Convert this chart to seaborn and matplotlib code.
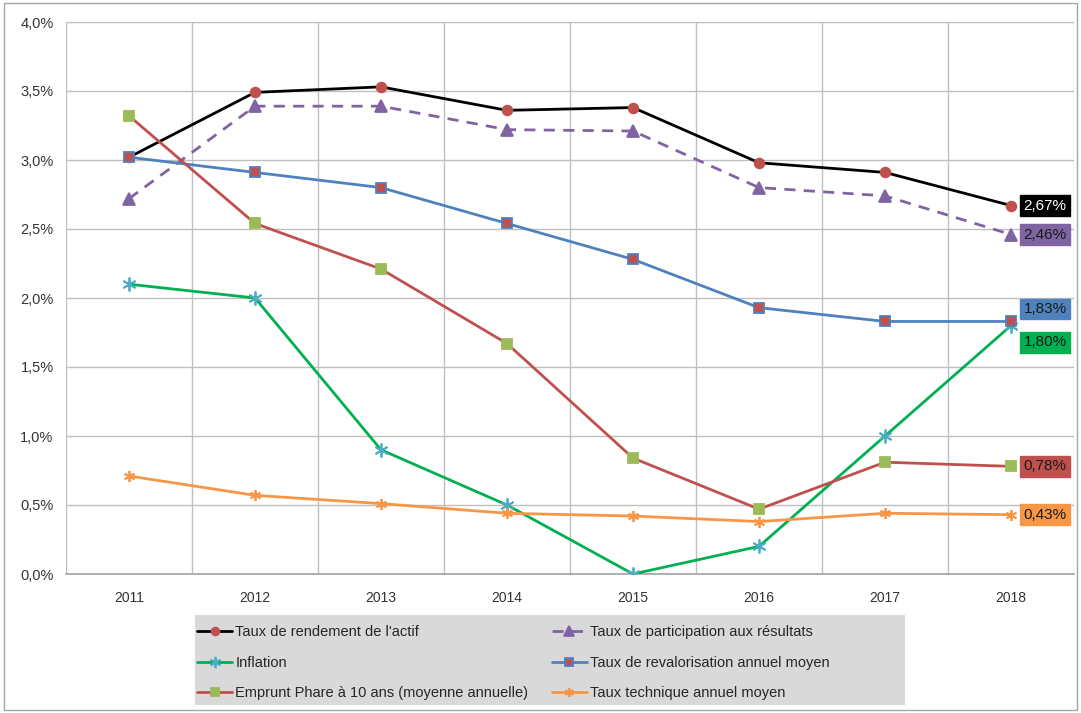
import numpy as np
import pandas as pd
import matplotlib
matplotlib.use("Agg")
import matplotlib.pyplot as plt
import seaborn as sns
from matplotlib.ticker import FuncFormatter, MultipleLocator, FixedLocator
from matplotlib.patches import Rectangle

years = ["2011", "2012", "2013", "2014", "2015", "2016", "2017", "2018"]

rendement = [3.02, 3.49, 3.53, 3.36, 3.38, 2.98, 2.91, 2.67]
participation = [2.72, 3.39, 3.39, 3.22, 3.21, 2.80, 2.74, 2.46]
revalorisation = [3.02, 2.91, 2.80, 2.54, 2.28, 1.93, 1.83, 1.83]
emprunt = [3.32, 2.54, 2.21, 1.67, 0.84, 0.47, 0.81, 0.78]
inflation = [2.10, 2.00, 0.90, 0.50, 0.00, 0.20, 1.00, 1.80]
technique = [0.71, 0.57, 0.51, 0.44, 0.42, 0.38, 0.44, 0.43]

labels = [
    "Taux de rendement de l'actif",
    "Taux de participation aux résultats",
    "Inflation",
    "Taux de revalorisation annuel moyen",
    "Emprunt Phare à 10 ans (moyenne annuelle)",
    "Taux technique annuel moyen",
]

sns.set_theme(style="white")
plt.rcParams["font.family"] = ["Liberation Sans", "DejaVu Sans"]

fig = plt.figure(figsize=(10.81, 7.13), dpi=100)
ax = fig.add_axes([66 / 1081, 1 - 574 / 713, (1074 - 66) / 1081, (574 - 22) / 713])

x = np.arange(len(years))
asterisk = (6, 2, 0)

# label, values, line colour, marker, marker face, marker edge, size, linestyle, box colour, text colour, label offset
series = [
    (labels[0], rendement, "#000000", "o", "#C0504D", "#C0504D", 7, "-", "#000000", "white", 0),
    (labels[1], participation, "#8064A2", "^", "#8064A2", "#8064A2", 9, (0, (4, 3)), "#8064A2", "#1a1a1a", 0),
    (labels[2], inflation, "#00B050", asterisk, "#4BACC6", "#4BACC6", 10, "-", "#00B050", "#1a1a1a", -12),
    (labels[3], revalorisation, "#4F81BD", "s", "#C0504D", "#4F81BD", 6.5, "-", "#4F81BD", "#1a1a1a", 9),
    (labels[4], emprunt, "#C0504D", "s", "#9BBB59", "#9BBB59", 6.5, "-", "#C0504D", "#1a1a1a", 0),
    (labels[5], technique, "#F79646", asterisk, "#F79646", "#F79646", 8, "-", "#F79646", "#1a1a1a", 0),
]

handles = {}
for lab, vals, col, mk, mfc, mec, ms, ls, box, tc, off in series:
    sns.lineplot(x=x, y=vals, ax=ax, color=col, marker=mk, markersize=ms,
                 markerfacecolor=mfc, markeredgecolor=mec, markeredgewidth=1.3,
                 linewidth=2.0, linestyle=ls, label=lab, zorder=3)
    handles[lab] = ax.get_lines()[-1]
    ax.annotate(f"{vals[-1]:.2f}%".replace(".", ","), xy=(x[-1], vals[-1]),
                xytext=(9, off), textcoords="offset points", ha="left", va="center",
                fontsize=11, color=tc,
                bbox=dict(boxstyle="square,pad=0.22", fc=box, ec=box), zorder=5)

ax.set_xlim(-0.5, len(years) - 0.5)
ax.set_ylim(0, 4.0)
ax.yaxis.set_major_locator(MultipleLocator(0.5))
ax.yaxis.set_major_formatter(FuncFormatter(lambda v, p: f"{v:.1f}%".replace(".", ",")))
ax.set_xticks(x)
ax.set_xticklabels(years)
ax.xaxis.set_minor_locator(FixedLocator(np.arange(-0.5, len(years), 1.0)))
ax.grid(True, which="major", axis="y", color="#BFBFBF", linewidth=1.0)
ax.grid(True, which="minor", axis="x", color="#BFBFBF", linewidth=1.0)
ax.tick_params(axis="x", which="major", length=0, labelsize=10, colors="#333333", pad=12)
ax.tick_params(axis="x", which="minor", length=6, color="#BFBFBF", width=1.0, direction="out")
ax.tick_params(axis="y", which="major", length=5, color="#BFBFBF", width=1.0, direction="out",
               labelsize=10.5, colors="#333333", pad=4)
for side in ["top", "right", "left"]:
    ax.spines[side].set_visible(False)
ax.spines["bottom"].set_color("#A6A6A6")
ax.set_xlabel("")
ax.set_ylabel("")
ax.get_legend().remove()

# grey legend panel
fig.patches.append(Rectangle((195 / 1081, 1 - 705 / 713), 710 / 1081, 90 / 713,
                             transform=fig.transFigure, facecolor="#D9D9D9",
                             edgecolor="none", zorder=0))

order = [labels[0], labels[2], labels[4], labels[1], labels[3], labels[5]]
leg = fig.legend([handles[l] for l in order], order, ncol=2, loc="upper left",
                 bbox_to_anchor=(193 / 1081, 1 - 621 / 713),
                 fontsize=10.5, frameon=False, markerscale=0.8,
                 handlelength=2.4, handletextpad=0.2, labelspacing=1.12,
                 borderaxespad=0, borderpad=0.3, columnspacing=1.6)

fig.patches.append(Rectangle((4 / 1081, 3 / 713), 1073 / 1081, 707 / 713, transform=fig.transFigure,
                             fill=False, edgecolor="#A6A6A6", linewidth=1.0))

fig.savefig("out.png", dpi=100)
